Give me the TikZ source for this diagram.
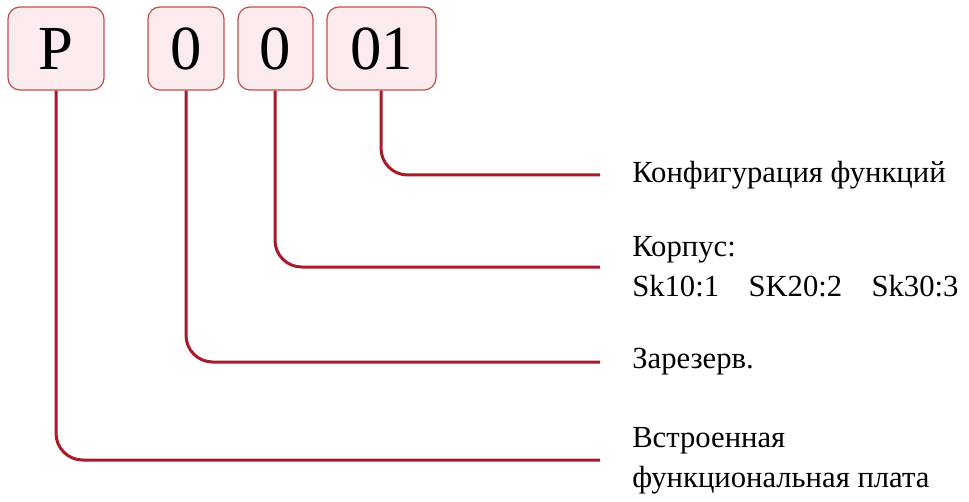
\documentclass[tikz,border=0pt]{standalone}
\usepackage{fontspec}
\setmainfont{Liberation Serif}
\usepackage{tikz}

\definecolor{boxfill}{HTML}{FBEBEC}
\definecolor{boxline}{HTML}{C0504D}
\definecolor{leadred}{HTML}{A81C2A}

\begin{document}
\begin{tikzpicture}[x=0.75pt,y=-0.75pt]
    \tikzstyle{codebox}=[draw=boxline, fill=boxfill, line width=0.9pt, rounded corners=9pt,
        minimum height=62.25pt, inner sep=0pt, font=\fontsize{47}{47}\selectfont]
    \tikzstyle{lbl}=[anchor=west, inner sep=0pt, align=left, font=\fontsize{23}{30}\selectfont]
    \tikzstyle{lead}=[draw=leadred, line width=2.25pt, rounded corners=20pt]
    \useasboundingbox (0,0) rectangle (969,502);
    \node[codebox, minimum width=72pt] (bp) at (56,48.5) {P};
    \node[codebox, minimum width=57pt] (bres) at (186,48.5) {0};
    \node[codebox, minimum width=56.25pt] (bcase) at (275.5,48.5) {0};
    \node[codebox, minimum width=81.75pt] (bfun) at (381.5,48.5) {01};
    \node[lbl] (lfun) at (632,175) {Конфигурация функций};
    \node[lbl] (lcase) at (632,267) {Корпус:\\Sk10:1\hspace{22pt}SK20:2\hspace{22pt}Sk30:3};
    \node[lbl] (lres) at (632,362) {Зарезерв.};
    \node[lbl] (lp) at (632,461) {Встроенная\\функциональная плата};
    \coordinate (efun) at (600,175);
    \coordinate (ecase) at (600,267);
    \coordinate (eres) at (600,362);
    \coordinate (ep) at (600,460);
    \draw[lead] (bfun.south -| 381,0) |- (efun);
    \draw[lead] (bcase.south -| 275,0) |- (ecase);
    \draw[lead] (bres.south) |- (eres);
    \draw[lead] (bp.south) |- (ep);
\end{tikzpicture}
\end{document}
